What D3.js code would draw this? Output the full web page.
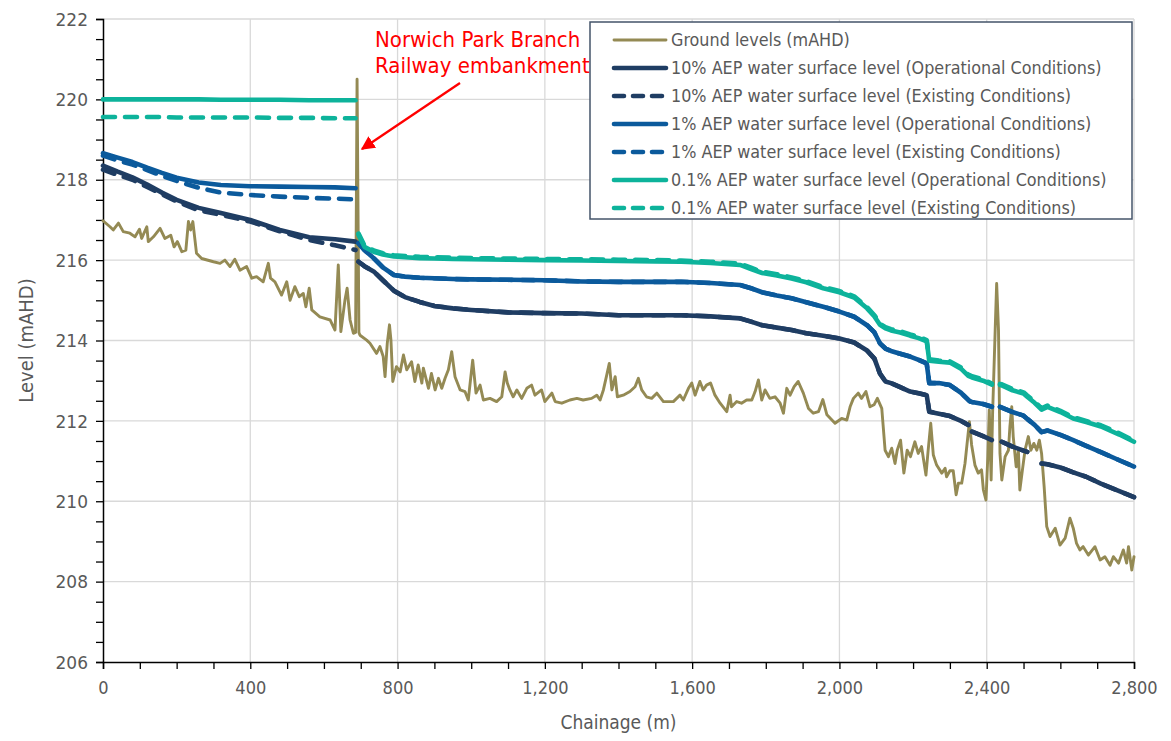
<!DOCTYPE html>
<html>
<head>
<meta charset="utf-8">
<script src="https://cdn.jsdelivr.net/npm/d3@7"></script>
<style>
  html, body { margin: 0; padding: 0; background: #fff; }
  svg { display: block; }
  text { font-family: "DejaVu Sans Condensed", "DejaVu Sans", sans-serif; font-stretch: condensed; }
</style>
</head>
<body>
<svg id="chart" width="1171" height="741"></svg>
<script>
// ---------------- data ----------------
const xTickValues = [0, 400, 800, 1200, 1600, 2000, 2400, 2800];
const yTickValues = [206, 208, 210, 212, 214, 216, 218, 220, 222];

const groundChainage = [0,19,28,42,55,73,87,99,105,119,123,137,155,168,184,193,202,214,225,232,238,244,254,268,300,318,331,345,358,372,390,404,417,435,449,455,467,485,499,508,521,533,544,551,560,567,589,617,630,639,646,657,663,671,680,686,690,695,698,716,725,743,752,761,766,772,778,782,787,797,807,816,825,838,847,856,866,870,884,892,902,911,920,929,938,947,956,970,983,992,1004,1013,1024,1033,1051,1069,1083,1092,1098,1105,1114,1124,1137,1151,1164,1173,1191,1200,1219,1228,1246,1268,1287,1304,1327,1341,1350,1359,1368,1375,1382,1391,1397,1413,1431,1445,1454,1463,1476,1490,1504,1522,1549,1567,1576,1590,1599,1608,1621,1630,1639,1650,1662,1676,1694,1703,1707,1721,1734,1748,1762,1771,1780,1789,1798,1811,1825,1839,1848,1857,1866,1877,1888,1902,1916,1929,1943,1955,1966,1988,2006,2020,2029,2038,2051,2060,2072,2083,2094,2103,2115,2124,2133,2142,2151,2157,2166,2175,2184,2193,2205,2214,2223,2235,2241,2248,2255,2264,2278,2287,2291,2300,2309,2317,2323,2332,2341,2353,2359,2368,2377,2386,2391,2398,2403,2407,2412,2416,2423,2427,2432,2436,2441,2450,2459,2463,2468,2472,2480,2486,2490,2497,2504,2513,2520,2528,2536,2543,2549,2556,2563,2572,2586,2599,2613,2626,2635,2644,2653,2662,2676,2694,2708,2721,2735,2744,2758,2771,2780,2785,2794,2800];
const groundLevel = [216.98,216.83,216.75,216.92,216.71,216.67,216.58,216.77,216.54,216.83,216.46,216.58,216.79,216.54,216.62,216.33,216.46,216.21,216.25,216.96,216.75,216.96,216.17,216.04,215.96,215.92,216.0,215.84,216.02,215.75,215.84,215.55,215.59,215.46,215.92,215.55,215.46,215.13,215.46,215.0,215.34,215.09,215.17,214.84,215.3,214.76,214.59,214.51,214.26,215.88,214.22,215.0,215.3,214.51,214.18,214.2,220.5,214.2,214.13,214.01,213.93,213.68,213.85,213.6,213.1,213.93,214.39,214.01,212.98,213.35,213.22,213.64,213.27,213.47,212.98,213.39,212.94,213.31,212.81,213.18,212.77,213.06,212.81,213.06,213.27,213.72,213.1,212.77,212.73,212.52,213.51,212.69,212.89,212.52,212.56,212.48,212.6,213.22,212.94,212.77,212.6,212.77,212.56,212.81,212.89,212.64,212.77,212.48,212.69,212.48,212.44,212.52,212.56,212.52,212.56,212.64,212.52,212.77,213.14,213.43,212.77,213.1,212.6,212.64,212.73,212.85,213.06,212.77,212.6,212.56,212.69,212.48,212.48,212.64,212.52,212.81,212.94,212.64,212.98,212.77,212.89,212.94,212.64,212.44,212.23,212.64,212.35,212.48,212.44,212.52,212.52,212.73,213.02,212.52,212.77,212.56,212.6,212.44,212.19,212.81,212.64,212.85,212.98,212.69,212.31,212.19,212.23,212.53,212.15,211.94,212.06,212.02,212.35,212.56,212.69,212.56,212.73,212.35,212.4,212.56,212.31,211.27,211.11,211.32,210.94,211.27,211.52,210.7,211.27,211.11,211.48,211.19,211.36,210.65,211.27,211.94,211.15,210.9,210.7,210.82,210.61,210.76,210.76,210.16,210.45,210.45,210.94,211.98,211.4,210.9,210.7,210.78,210.28,210.03,211.11,212.27,210.53,212.19,214.26,215.42,214.26,211.19,210.53,211.11,211.27,211.86,212.35,211.61,210.86,211.27,210.28,210.78,211.27,211.61,211.27,211.44,211.27,211.52,211.19,210.36,209.37,209.12,209.33,208.91,209.08,209.58,209.33,208.95,208.79,208.87,208.66,208.87,208.54,208.62,208.41,208.62,208.46,208.79,208.46,208.87,208.29,208.62];

const wsChainage = [0,40,80,120,160,200,260,320,400,480,560,630,686,690,694,710,735,760,790,820,860,900,950,1000,1100,1200,1300,1400,1500,1570,1650,1730,1760,1790,1830,1870,1910,1956,2000,2040,2075,2095,2110,2125,2140,2165,2192,2215,2237,2244,2270,2300,2330,2350,2355,2360,2390,2414,2422,2436,2441,2470,2500,2510,2530,2549,2565,2600,2635,2670,2710,2760,2800];

const aep10Operational = [218.35,218.2,218.06,217.88,217.68,217.5,217.3,217.17,217.0,216.75,216.57,216.52,216.46,null,215.96,215.85,215.72,215.5,215.24,215.08,214.96,214.86,214.8,214.76,214.7,214.68,214.67,214.63,214.63,214.63,214.6,214.55,214.47,214.38,214.32,214.26,214.18,214.12,214.05,213.95,213.75,213.55,213.18,212.98,212.94,212.84,212.73,212.69,212.64,212.23,212.18,212.12,212.0,211.9,null,211.73,211.62,211.52,null,null,211.48,211.36,211.26,211.23,null,210.94,210.92,210.84,210.72,210.61,210.44,210.25,210.1];
const aep10Existing = [218.25,218.12,218.0,217.82,217.64,217.46,217.24,217.13,216.96,216.72,216.5,216.37,216.25,null,215.96,215.85,215.72,215.5,215.24,215.08,214.96,214.86,214.8,214.76,214.7,214.68,214.67,214.63,214.63,214.63,214.6,214.55,214.47,214.38,214.32,214.26,214.18,214.12,214.05,213.95,213.75,213.55,213.18,212.98,212.94,212.84,212.73,212.69,212.64,212.23,212.18,212.12,212.0,211.9,null,211.73,211.62,211.52,null,null,211.48,211.36,211.26,211.23,null,210.94,210.92,210.84,210.72,210.61,210.44,210.25,210.1];
const aep1Operational = [218.66,218.55,218.44,218.3,218.17,218.05,217.93,217.87,217.84,217.83,217.82,217.81,217.79,null,216.42,216.25,216.05,215.82,215.63,215.59,215.56,215.55,215.53,215.52,215.51,215.5,215.47,215.46,215.46,215.46,215.43,215.38,215.3,215.2,215.12,215.05,214.95,214.84,214.72,214.59,214.38,214.2,213.93,213.8,213.74,213.67,213.6,213.52,213.43,212.94,212.94,212.89,212.7,212.52,212.48,212.47,212.42,212.35,null,212.35,212.33,212.22,212.13,212.05,211.9,211.72,211.76,211.65,211.52,211.38,211.22,211.02,210.86];
const aep1Existing = [218.6,218.48,218.38,218.24,218.1,217.97,217.8,217.68,217.62,217.58,217.55,217.53,217.51,null,216.42,216.25,216.05,215.82,215.63,215.59,215.56,215.55,215.53,215.52,215.51,215.5,215.47,215.46,215.46,215.46,215.43,215.38,215.3,215.2,215.12,215.05,214.95,214.84,214.72,214.59,214.38,214.2,213.93,213.8,213.74,213.67,213.6,213.52,213.43,212.94,212.94,212.89,212.7,212.52,212.48,212.47,212.42,212.35,null,212.35,212.33,212.22,212.13,212.05,211.9,211.72,211.76,211.65,211.52,211.38,211.22,211.02,210.86];
const aep01Operational = [220.0,220.0,220.0,220.0,220.0,220.0,220.0,219.99,219.99,219.99,219.98,219.98,219.98,null,216.63,216.33,216.21,216.14,216.09,216.07,216.05,216.04,216.03,216.02,216.01,216.0,215.99,215.98,215.97,215.96,215.93,215.88,215.78,215.68,215.62,215.54,215.45,215.3,215.2,215.07,214.8,214.6,214.39,214.3,214.25,214.2,214.12,214.06,213.98,213.5,213.47,213.45,213.3,213.12,213.1,213.08,213.0,212.9,null,212.89,212.88,212.76,212.68,212.6,212.45,212.28,212.35,212.22,212.06,211.97,211.86,211.66,211.48];
const aep01Existing = [219.56,219.56,219.56,219.56,219.56,219.55,219.55,219.55,219.55,219.54,219.54,219.53,219.53,null,216.66,216.36,216.24,216.17,216.12,216.1,216.08,216.07,216.06,216.05,216.04,216.03,216.02,216.01,216.0,215.99,215.96,215.91,215.81,215.71,215.65,215.57,215.48,215.33,215.23,215.1,214.83,214.63,214.42,214.33,214.28,214.23,214.15,214.09,214.01,213.53,213.5,213.48,213.33,213.15,213.13,213.11,213.03,212.93,null,212.92,212.91,212.79,212.71,212.63,212.48,212.31,212.38,212.25,212.09,212.0,211.89,211.69,211.51];

const seriesNames = [
  "Ground levels (mAHD)",
  "10% AEP water surface level (Operational Conditions)",
  "10% AEP water surface level (Existing Conditions)",
  "1% AEP water surface level (Operational Conditions)",
  "1% AEP water surface level (Existing Conditions)",
  "0.1% AEP water surface level (Operational Conditions)",
  "0.1% AEP water surface level (Existing Conditions)"
];
const annotationLines = ["Norwich Park Branch", "Railway embankment"];

// ---------------- styles ----------------
const C_GROUND = "#948a54", C_10 = "#1f3d63", C_1 = "#0b5a9c", C_01 = "#0db39b";
const styles = [
  {color: C_GROUND, width: 2.9, dash: null},
  {color: C_10, width: 4.6, dash: null},
  {color: C_10, width: 4.6, dash: "12,10"},
  {color: C_1, width: 4.6, dash: null},
  {color: C_1, width: 4.6, dash: "12,10"},
  {color: C_01, width: 4.6, dash: null},
  {color: C_01, width: 4.6, dash: "12,10"}
];

const svg = d3.select("#chart");
const x = d3.scaleLinear().domain([0, 2800]).range([103, 1134]);
const y = d3.scaleLinear().domain([206, 222]).range([662, 19]);

// gridlines
const grid = svg.append("g");
grid.selectAll("line.h").data(yTickValues.filter(v => v > 206)).join("line")
  .attr("x1", x(0)).attr("x2", x(2800)).attr("y1", d => y(d)).attr("y2", d => y(d))
  .attr("stroke", "#d9d9d9").attr("stroke-width", 1.3);
grid.selectAll("line.v").data(xTickValues.filter(v => v > 0)).join("line")
  .attr("x1", d => x(d)).attr("x2", d => x(d)).attr("y1", y(206)).attr("y2", y(222))
  .attr("stroke", "#d9d9d9").attr("stroke-width", 1.3);

// axes
const fmt = d3.format(",");
const xAxis = d3.axisBottom(x).tickValues(d3.range(0, 2801, 100)).tickSize(7)
  .tickFormat(d => xTickValues.includes(d) ? fmt(d) : "");
const gx = svg.append("g").attr("transform", `translate(0,${y(206)})`).call(xAxis);
const yAxis = d3.axisLeft(y).tickValues(d3.range(206, 222.01, 0.5)).tickSize(7)
  .tickFormat(d => yTickValues.includes(d) ? d : "");
const gy = svg.append("g").attr("transform", `translate(${x(0)},0)`).call(yAxis);
[gx, gy].forEach(g => {
  g.select(".domain").attr("stroke", "#000").attr("stroke-width", 1.5);
  g.selectAll(".tick line").attr("stroke", "#000").attr("stroke-width", 1.3);
  g.selectAll(".tick text").attr("fill", "#595959").style("font-size", "18px");
});
gx.selectAll(".tick text").attr("dy", "1.2em");
gy.selectAll(".tick text").attr("x", -15).attr("dy", "0.36em")
  .style("font-family", "'DejaVu Sans', sans-serif").style("font-stretch", "normal").style("font-size", "17px");

// axis titles
svg.append("text").attr("x", x(1400)).attr("y", 729).attr("text-anchor", "middle")
  .attr("fill", "#595959").style("font-size", "19px").text("Chainage (m)");
svg.append("text").attr("transform", `translate(33,${y(214)}) rotate(-90)`).attr("text-anchor", "middle")
  .attr("fill", "#595959").style("font-size", "20px").text("Level (mAHD)");

// lines
const plot = svg.append("g");
const groundData = groundChainage.map((c, i) => ({c, v: groundLevel[i]}));
const wsSeries = [aep10Operational, aep10Existing, aep1Operational, aep1Existing, aep01Operational, aep01Existing]
  .map(vals => wsChainage.map((c, i) => ({c, v: vals[i]})));
const allSeries = [groundData, ...wsSeries];
const line = d3.line().defined(d => d.v !== null).x(d => x(d.c)).y(d => y(d.v));
allSeries.forEach((data, i) => {
  const s = styles[i];
  plot.append("path").datum(data).attr("d", line)
    .attr("fill", "none").attr("stroke", s.color).attr("stroke-width", s.width)
    .attr("stroke-linejoin", "round").attr("stroke-linecap", "round")
    .attr("stroke-dasharray", s.dash);
});

// annotation
const ann = svg.append("g");
ann.selectAll("text").data(annotationLines).join("text")
  .attr("x", 375).attr("y", (d, i) => 47 + i * 26)
  .attr("fill", "#ff0000").style("font-size", "22px").text(d => d);
svg.append("defs").append("marker").attr("id", "arrow").attr("viewBox", "0 0 10 10")
  .attr("refX", 9).attr("refY", 5).attr("markerWidth", 6).attr("markerHeight", 6)
  .attr("orient", "auto").append("path").attr("d", "M0,0 L10,5 L0,10 Z").attr("fill", "#ff0000");
ann.append("line").attr("x1", 460).attr("y1", 83).attr("x2", 362).attr("y2", 149)
  .attr("stroke", "#ff0000").attr("stroke-width", 2.3).attr("marker-end", "url(#arrow)");

// legend
const lg = svg.append("g");
lg.append("rect").attr("x", 590).attr("y", 22).attr("width", 542).attr("height", 197)
  .attr("fill", "#fff").attr("stroke", "#44546a").attr("stroke-width", 1.5);
const rows = lg.selectAll("g.row").data(seriesNames).join("g")
  .attr("transform", (d, i) => `translate(0,${40 + i * 28})`);
rows.append("line").attr("x1", 614).attr("x2", 666).attr("y1", 0).attr("y2", 0)
  .attr("stroke", (d, i) => styles[i].color)
  .attr("stroke-width", (d, i) => i === 0 ? 2.9 : 4.6)
  .attr("stroke-linecap", "round")
  .attr("stroke-dasharray", (d, i) => styles[i].dash ? "10,9" : null);
rows.append("text").attr("x", 671).attr("y", 0).attr("dy", "0.35em")
  .attr("fill", "#595959").style("font-size", "17.8px").text(d => d);
</script>
</body>
</html>
